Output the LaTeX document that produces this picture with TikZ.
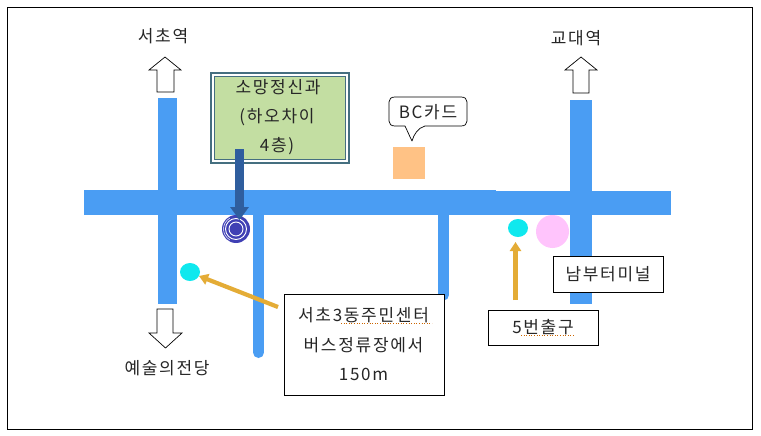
\documentclass[tikz,border=0pt]{standalone}
\usepackage{fontspec}
\setmainfont{Liberation Serif}
\newfontfamily\kr[LetterSpace=10]{Noto Sans CJK KR}
\usetikzlibrary{arrows.meta,positioning,shapes.geometric}
\definecolor{road}{HTML}{4A9DF3}
\definecolor{gold}{HTML}{E4AC36}
\definecolor{steel}{HTML}{2F5E9E}
\definecolor{leaf}{HTML}{C3DEA2}
\definecolor{frameblue}{HTML}{456F80}
\definecolor{ring}{HTML}{4040B4}
\definecolor{peach}{HTML}{FFC285}
\definecolor{aqua}{HTML}{0FE8EE}
\definecolor{pinkish}{HTML}{FFC4FC}
\tikzset{
  x=1pt,y=-1pt,
  roadfill/.style={fill=road,draw=none},
  roadline/.style={draw=road,line width=11pt,line cap=round},
  blockarrow/.style={draw=black,fill=white,line width=0.7pt,line join=miter},
  label/.style={font=\fontsize{17}{24}\selectfont\kr,text=black!85,inner sep=0pt,align=center},
  infobox/.style={draw=black,fill=white,line width=0.9pt,inner sep=0pt,anchor=north west},
  goldarrow/.style={draw=gold,line width=4.2pt,-{Triangle[length=9pt,width=11pt]}},
  spot/.style={ellipse,fill=aqua,draw=none,inner sep=0pt,minimum width=20pt,minimum height=18pt},
  spell/.style={draw=orange!80!black,line width=0.6pt,dotted},
}
\begin{document}
\begin{tikzpicture}
\useasboundingbox (0,0) rectangle (761,436);
\fill[white] (0,0) rectangle (761,436);
\draw[black,line width=1pt] (7,8) rectangle (752,429);

% roads
\draw[roadline] (258.5,214) -- (258.5,352.5);
\draw[roadline] (443.5,214) -- (443.5,295);
\fill[roadfill] (158,98) rectangle (177,304);
\fill[roadfill] (570,100) rectangle (592,304);
\fill[roadfill] (84,190) rectangle (496,214.5);
\fill[roadfill] (496,190.5) rectangle (671,215);

% block arrows
\draw[blockarrow] (157,92) -- (157,70) -- (149,70) -- (165,57) -- (181,70) -- (174,70) -- (174,92) -- cycle;
\draw[blockarrow] (573,93) -- (573,70) -- (565,70) -- (581,57) -- (597,70) -- (589,70) -- (589,93) -- cycle;
\draw[blockarrow] (157,309) -- (157,333) -- (149,333) -- (165.5,348) -- (182,333) -- (173,333) -- (173,309) -- cycle;

% labels
\node[label] (seocho) at (163,36) {서초역};
\node[label] (gyodae) at (576,38) {교대역};
\node[label] (arts) at (167,368) {예술의전당};

% clinic
\node[draw=frameblue,line width=2pt,fill=white,minimum width=138pt,minimum height=90pt,anchor=north west,inner sep=0pt] (clinicframe) at (210,72) {};
\node[draw=frameblue,line width=0.8pt,fill=leaf,minimum width=131pt,minimum height=83pt,inner sep=0pt] (clinic) at (clinicframe.center) {};
\node[label] at (278,87) {소망정신과};
\node[label] at (277,117) {(하오차이};
\node[label] at (277,146) {4층)};

% target
\node[circle,fill=ring,minimum size=28pt,inner sep=0pt] (target) at (236,229) {};
\draw[white,line width=0.9pt] (target.center) circle (10.5);
\draw[white,line width=0.9pt] (target.center) circle (7);
\draw[white,line width=0.5pt] (target.center) ++(-12.5,0) arc (180:120:12.5);
\draw[white,line width=0.5pt] (target.center) ++(-12.5,0) arc (180:240:12.5);
\fill[ring] (target.center) ellipse (5.5 and 4.5);

% clinic arrow
\coordinate (clinicstart) at (239.5,149);
\coordinate (clinicend) at (239.5,220);
\draw[draw=steel,line width=9pt,-{Triangle[length=13pt,width=18pt]}] (clinicstart) -- (clinicend);

% BC card
\fill[peach] (393,147) rectangle (425,179);
\draw[black,line width=0.7pt,fill=white,line join=round]
  (395,97) -- (461,97) .. controls (465,97) and (467,99) .. (467,102)
  -- (467,121) .. controls (467,124) and (465,126) .. (461,126)
  -- (425,126) .. controls (418,128) and (414,134) .. (412,141)
  .. controls (409,135) and (407,130) .. (405,126)
  -- (395,126) .. controls (391,126) and (389,124) .. (389,121)
  -- (389,102) .. controls (389,99) and (391,97) .. (395,97) -- cycle;
\node[label] (bc) at (428,112) {BC카드};

% spots
\node[spot] (spotA) at (190,272) {};
\node[spot] (spotB) at (518,228) {};
\fill[pinkish] (552.5,231.5) circle (16.5);

% boxes
\node[infobox,minimum width=160pt,minimum height=101pt] (busbox) at (284,294) {};
\node[label] at (363.5,315) {서초3동주민센터};
\node[label] at (363.5,345) {버스정류장에서};
\node[label] at (363.5,374) {150m};
\draw[spell] (341,323) -- (432,323);
\node[infobox,minimum width=110pt,minimum height=36pt] (terminal) at (553,256) {};
\node[label] at (608,274) {남부터미널};
\node[infobox,minimum width=110pt,minimum height=35pt] (exitfive) at (488,310) {};
\node[label] at (543,327) {5번출구};
\draw[spell] (521,335) -- (575,335);

% gold arrows
\coordinate (busstart) at (278,307);
\coordinate (busend) at (199,276);
\coordinate (exitstart) at (515.5,300);
\coordinate (exitend) at (515.5,242);
\draw[goldarrow] (busstart) -- (busend);
\draw[goldarrow] (exitstart) -- (exitend);
\end{tikzpicture}
\end{document}
